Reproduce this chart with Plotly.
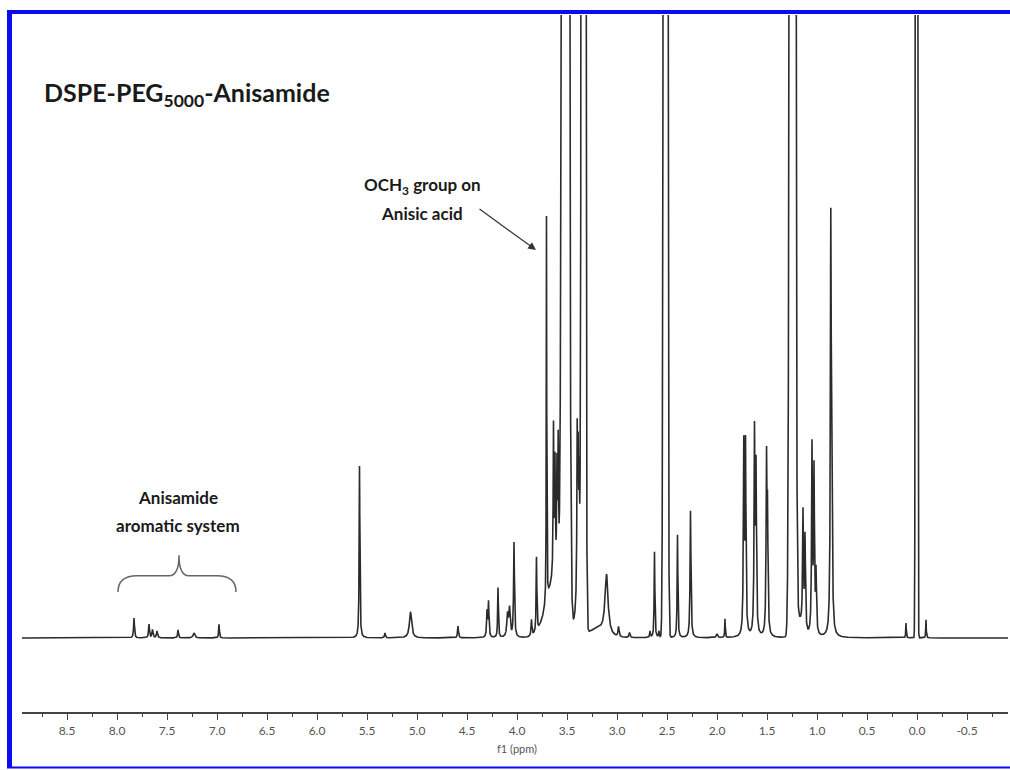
import numpy as np
import plotly.graph_objects as go

# ---- 1H NMR peak list (chemical shift in ppm, relative intensity, half width in ppm) ----
# Lorentzian lines
lor_ppm = [7.83, 7.68, 7.645, 7.60, 7.39, 7.23, 6.98,
           5.575, 5.32, 5.065, 4.59, 4.30, 4.285, 4.19, 4.095, 4.075, 4.03,
           3.855, 3.805, 3.705, 3.635, 3.62, 3.60, 3.588,
           3.398, 3.388, 3.378, 3.105, 2.985, 2.875, 2.67, 2.625, 2.58,
           2.395, 2.265, 2.00, 1.92, 1.732, 1.715, 1.625, 1.61, 1.505, 1.495,
           1.14, 1.12, 1.05, 1.03, 1.01, 0.862, 0.852, 0.11, -0.09]
lor_int = [3.2, 2.2, 1.3, 1.1, 1.3, 0.8, 2.2,
           27.6, 0.8, 4.2, 1.9, 4.0, 5.6, 8.0, 3.5, 4.5, 15.2,
           2.6, 12.0, 62.0, 24.0, 17.7, 16.9, 20.9,
           26.0, 20.0, 16.0, 9.6, 1.6, 0.8, 1.0, 13.8, 1.0,
           16.5, 20.4, 0.6, 3.0, 30.0, 30.0, 32.0, 26.0, 27.0, 18.0,
           18.5, 15.0, 30.0, 26.0, 9.6, 63.0, 30.0, 2.4, 2.9]
lor_hw = [0.005, 0.005, 0.006, 0.006, 0.005, 0.010, 0.004,
          0.004, 0.005, 0.013, 0.005, 0.005, 0.005, 0.004, 0.008, 0.008, 0.005,
          0.005, 0.004, 0.0025, 0.004, 0.004, 0.004, 0.004,
          0.004, 0.004, 0.004, 0.018, 0.006, 0.006, 0.004, 0.004, 0.004,
          0.004, 0.005, 0.008, 0.003, 0.005, 0.005, 0.005, 0.005, 0.005, 0.005,
          0.005, 0.005, 0.005, 0.005, 0.005, 0.005, 0.005, 0.003, 0.003]

# Gaussian lines: intense solvent / PEG / TMS signals and broad envelopes
gau_ppm = [3.515, 3.335, 2.515, 1.245, 0.005, 3.61, 3.37, 3.20, 1.19]
gau_int = [963.0, 963.0, 963.0, 963.0, 963.0, 9.6, 8.0, 1.3, 3.0]
gau_sd = [0.0197, 0.0117, 0.0117, 0.0164, 0.006, 0.09, 0.03, 0.08, 0.04]

# axis ticks
tick_vals = [8.5, 8.0, 7.5, 7.0, 6.5, 6.0, 5.5, 5.0, 4.5, 4.0, 3.5, 3.0,
             2.5, 2.0, 1.5, 1.0, 0.5, 0.0, -0.5]
tick_text = ["8.5", "8.0", "7.5", "7.0", "6.5", "6.0", "5.5", "5.0", "4.5", "4.0",
             "3.5", "3.0", "2.5", "2.0", "1.5", "1.0", "0.5", "0.0", "-0.5"]

# ---- build spectrum trace from the peak list ----
ppm = np.linspace(8.95, -0.91, 19721)
signal = np.zeros_like(ppm)
for c, h, w in zip(lor_ppm, lor_int, lor_hw):
    signal += h * w**2 / ((ppm - c) ** 2 + w**2)
for c, h, s in zip(gau_ppm, gau_int, gau_sd):
    signal += h * np.exp(-((ppm - c) ** 2) / (2 * s**2))

fig = go.Figure()
fig.add_trace(go.Scatter(x=ppm, y=signal, mode="lines",
                         line=dict(color="#2b2b2b", width=1.6),
                         hoverinfo="skip", showlegend=False))

# plot-area geometry helpers (pixels -> paper)
L, R, T, B = 22, 2, 15, 58
W, H = 1010, 770
pw, ph = W - L - R, H - T - B


def px(xp):
    return (xp - L) / pw


def py(yp):
    return (H - B - yp) / ph


blue = "#0b0bf2"
shapes = [
    dict(type="rect", xref="paper", yref="paper", x0=px(7), x1=px(12), y0=py(768), y1=py(10),
         fillcolor=blue, line=dict(width=0), layer="above"),
    dict(type="rect", xref="paper", yref="paper", x0=px(7), x1=px(1010), y0=py(14), y1=py(10),
         fillcolor=blue, line=dict(width=0), layer="above"),
    dict(type="rect", xref="paper", yref="paper", x0=px(7), x1=px(1010), y0=py(768.5), y1=py(766.5),
         fillcolor=blue, line=dict(width=0), layer="above"),
    # curly brace over the aromatic region
    dict(type="path", xref="x", yref="y",
         path="M 7.99,7.4 Q 7.99,10.0 7.80,10.0 L 7.48,10.0 Q 7.38,10.0 7.38,13.3 "
              "Q 7.38,10.0 7.28,10.0 L 7.00,10.0 Q 6.81,10.0 6.81,7.4",
         line=dict(color="#666666", width=1.5)),
]

font_txt = "Lato, 'Open Sans', sans-serif"
annotations = [
    dict(text="<b>DSPE-PEG<sub>5000</sub>-Anisamide</b>", xref="paper", yref="paper",
         x=px(42), y=py(94), xanchor="left", yanchor="middle", showarrow=False,
         font=dict(family=font_txt, size=25, color="#1a1a1a")),
    dict(text="<b>OCH<sub>3</sub> group on</b>", xref="paper", yref="paper",
         x=px(422), y=py(186), xanchor="center", yanchor="middle", showarrow=False,
         font=dict(family=font_txt, size=17, color="#1a1a1a")),
    dict(text="<b>Anisic acid</b>", xref="paper", yref="paper",
         x=px(422), y=py(213), xanchor="center", yanchor="middle", showarrow=False,
         font=dict(family=font_txt, size=17, color="#1a1a1a")),
    dict(text="<b>Anisamide</b>", xref="paper", yref="paper",
         x=px(178), y=py(497), xanchor="center", yanchor="middle", showarrow=False,
         font=dict(family=font_txt, size=17, color="#1a1a1a")),
    dict(text="<b>aromatic system</b>", xref="paper", yref="paper",
         x=px(178), y=py(525), xanchor="center", yanchor="middle", showarrow=False,
         font=dict(family=font_txt, size=17, color="#1a1a1a")),
    dict(text="", xref="paper", yref="paper", x=px(536), y=py(250),
         ax=-58, ay=-42, showarrow=True, arrowhead=2, arrowsize=1.3, arrowwidth=1.2,
         arrowcolor="#333333"),
    dict(text="f1 (ppm)", xref="paper", yref="paper", x=px(517), y=py(749),
         xanchor="center", yanchor="middle", showarrow=False,
         font=dict(family=font_txt, size=11, color="#555555")),
]

fig.update_layout(
    width=W, height=H,
    margin=dict(l=L, r=R, t=T, b=B),
    paper_bgcolor="white", plot_bgcolor="white",
    shapes=shapes, annotations=annotations,
    xaxis=dict(range=[8.95, -0.91], showgrid=False, zeroline=False,
               showline=True, linecolor="#444444", linewidth=1.5,
               ticks="outside", ticklen=6, tickwidth=1.2, tickcolor="#444444",
               tickvals=tick_vals, ticktext=tick_text, ticklabelstandoff=1,
               tickfont=dict(family=font_txt, size=12, color="#555555"),
               minor=dict(ticks="outside", ticklen=3, tickwidth=1.2, tickcolor="#444444",
                          dtick=0.25, tick0=0.0, showgrid=False)),
    yaxis=dict(range=[-11.88, 100], visible=False, showgrid=False, zeroline=False),
)

fig.write_html("out.html")
